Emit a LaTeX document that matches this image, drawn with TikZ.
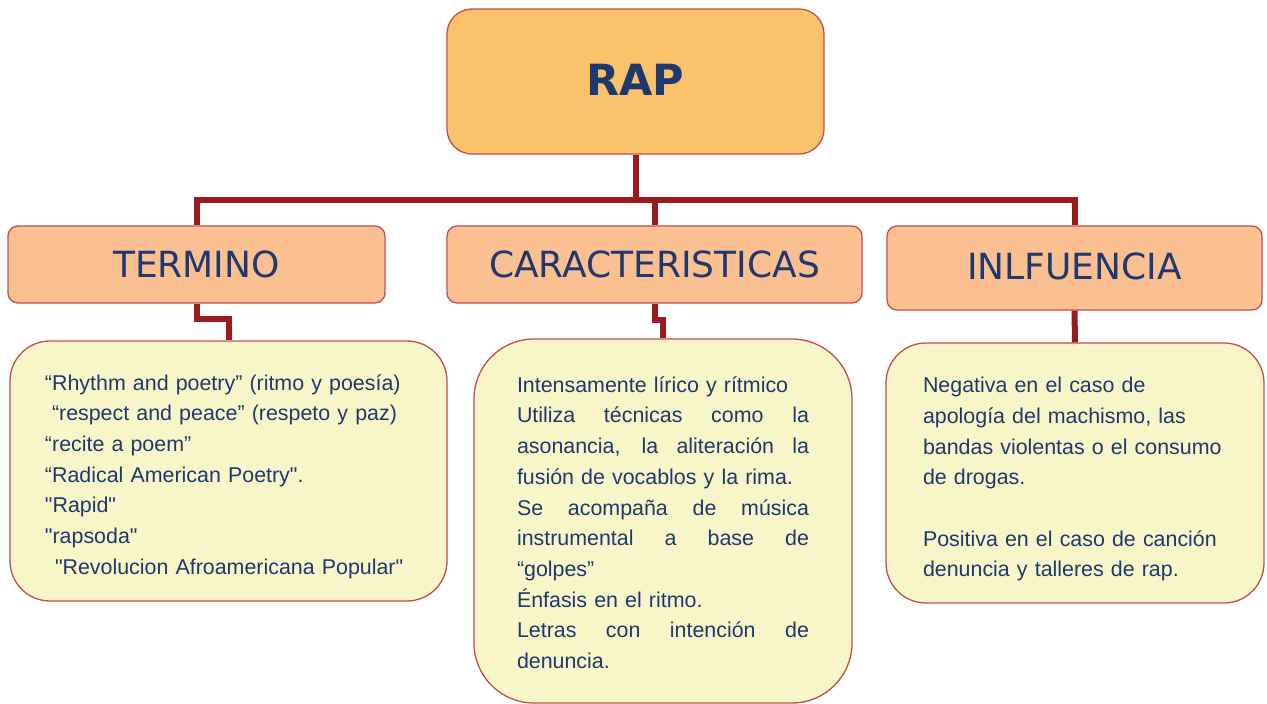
\documentclass[tikz,border=0pt]{standalone}
\usepackage{fontspec}
\setmainfont{Liberation Sans}[Ligatures=TeXOff]
\newfontfamily\hdfont{DejaVu Sans}[Ligatures=TeXOff]
\definecolor{linkred}{RGB}{155,27,32}
\definecolor{edgered}{RGB}{192,80,77}
\definecolor{rapfill}{RGB}{250,195,107}
\definecolor{headfill}{RGB}{250,192,146}
\definecolor{notefill}{RGB}{248,246,200}
\definecolor{navy}{RGB}{31,56,110}
\newcommand{\jline}[1]{\makebox[292pt][s]{\spaceskip=0pt\relax\xspaceskip=0pt\relax #1}}
\newcommand{\oneline}[1]{\mbox{#1}}
\newcommand{\topgap}[1]{\rule{0pt}{#1}}
\begin{document}
\begin{tikzpicture}[x=1pt,y=-1pt,
  box/.style={draw=edgered,line width=1.3pt,rectangle,inner sep=0pt,text=navy},
  rapbox/.style={box,fill=rapfill,rounded corners=25pt,minimum width=377pt,minimum height=145pt,font=\hdfont\bfseries\fontsize{43}{50}\selectfont},
  headbox/.style={box,fill=headfill,rounded corners=10pt,font=\hdfont\fontsize{36}{42}\selectfont},
  notebox/.style={box,fill=notefill,align=left,font=\fontsize{21.4}{30.7}\selectfont},
  conn/.style={draw=linkred,line width=6pt,line join=miter}]
\fill[white] (0,0) rectangle (1267,704);
\useasboundingbox (0,0) rectangle (1267,704);

\node[rapbox] (rap) at (635.5,81.5) {\raisebox{4pt}{RAP}};
\node[headbox,minimum width=377pt,minimum height=77pt] (term) at (196.5,264.5) {TERMINO};
\node[headbox,minimum width=415pt,minimum height=77pt] (carac) at (654.5,264.5) {CARACTERISTICAS};
\node[headbox,minimum width=375pt,minimum height=84pt] (infl) at (1074.5,268) {\raisebox{3pt}{INLFUENCIA}};

\node[notebox,rounded corners=40pt,minimum width=437pt,minimum height=260pt,text width=367pt] (b1) at (228.5,471) {%
\topgap{27pt}\oneline{“Rhythm and poetry” (ritmo y poesía)}\\
\oneline{\hspace*{7pt}“respect and peace” (respeto y paz)}\\
\oneline{“recite a poem”}\\
\oneline{“Radical American Poetry".}\\
\oneline{"Rapid"}\\
\oneline{"rapsoda"}\\
\oneline{\hspace*{10pt}"Revolucion Afroamericana Popular"}};

\node[notebox,rounded corners=60pt,minimum width=378pt,minimum height=364pt,text width=292pt] (b2) at (663,521) {%
\topgap{19pt}Intensamente lírico y rítmico\\
\jline{Utiliza técnicas como la}\\
\jline{asonancia, la aliteración la}\\
\oneline{fusión de vocablos y la rima.}\\
\jline{Se acompaña de música}\\
\jline{instrumental a base de}\\
“golpes”\\
Énfasis en el ritmo.\\
\jline{Letras con intención de}\\
denuncia.};

\node[notebox,rounded corners=40pt,minimum width=378pt,minimum height=260pt,text width=304pt] (b3) at (1075,473) {%
\topgap{28pt}\oneline{Negativa en el caso de}\\
\oneline{apología del machismo, las}\\
\oneline{bandas violentas o el consumo}\\
\oneline{de drogas.}\\[30.7pt]
\oneline{Positiva en el caso de canción}\\
\oneline{denuncia y talleres de rap.}};

\coordinate (bus) at (636,200);
\coordinate (jog1) at (0,319);
\coordinate (jog2) at (0,320);
\draw[conn] (rap.south) -- (rap.south |- bus);
\draw[conn] (term.north) -- (term.north |- bus) -- (infl.north |- bus) -- (infl.north);
\draw[conn] (carac.north) -- (carac.north |- bus);
\draw[conn] (term.south) -- (term.south |- jog1) -| (b1.north);
\draw[conn] (carac.south) -- (carac.south |- jog2) -| (b2.north);
\draw[conn] (infl.south) -- (b3.north);
\end{tikzpicture}
\end{document}
